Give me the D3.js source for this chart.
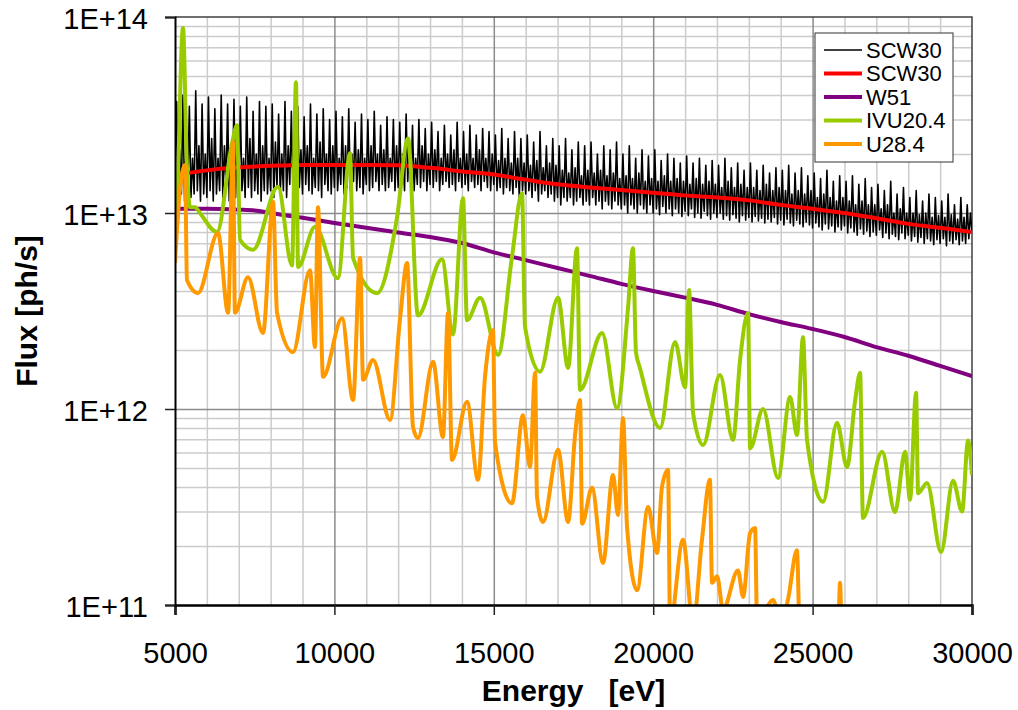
<!DOCTYPE html>
<html>
<head>
<meta charset="utf-8">
<script src="https://cdn.jsdelivr.net/npm/d3@7"></script>
<style>
body { margin: 0; background: #fff; }
svg { display: block; font-family: Arial, "Liberation Sans", sans-serif; }
</style>
</head>
<body>
<div id="chart"></div>
<script>
// ---- data (energy in eV, flux in ph/s) ----
var xTicks = [5000, 10000, 15000, 20000, 25000, 30000];
var yTicks = [1e11, 1e12, 1e13, 1e14];
var seriesNames = ["SCW30", "SCW30", "W51", "IVU20.4", "U28.4"];

// SCW30 noisy trace, one value every 50 eV from 5000, in units of 1e13
var scwStart = 5000, scwStep = 50;
var scwRaw = [
  1.5,3.7,1.2,2.1,1.25,4.0,1.15,2.3,1.3,3.5,1.2,1.9,1.25,4.2,1.3,2.2,1.15,3.6,1.25,2.0,
  1.2,3.9,1.3,2.4,1.15,3.4,1.25,1.9,1.3,4.0,1.2,2.2,1.35,3.6,1.15,2.1,1.3,3.8,1.2,2.3,
  1.25,3.5,1.3,1.9,1.2,3.9,1.35,2.4,1.2,3.3,1.3,2.0,1.25,3.7,1.15,2.2,1.3,3.5,1.25,1.9,
  1.3,3.6,1.2,2.3,1.35,3.2,1.25,2.0,1.3,3.7,1.2,2.2,1.4,3.3,1.25,1.9,1.3,3.5,1.35,2.1,
  1.25,3.1,1.4,2.2,1.3,3.6,1.25,1.9,1.35,3.2,1.3,2.3,1.2,3.4,1.4,2.0,1.3,3.0,1.25,2.2,
  1.35,3.3,1.3,1.9,1.4,3.1,1.25,2.2,1.35,3.4,1.3,2.0,1.45,2.9,1.3,2.1,1.35,3.2,1.25,1.9,
  1.4,3.0,1.3,2.2,1.35,3.3,1.45,2.0,1.3,2.8,1.4,2.1,1.3,3.1,1.35,1.9,1.45,3.0,1.3,2.2,
  1.35,2.9,1.4,2.0,1.3,3.2,1.45,2.1,1.35,2.8,1.3,1.9,1.4,3.0,1.35,2.2,1.45,2.7,1.3,2.0,
  1.4,2.9,1.35,2.1,1.45,2.6,1.3,1.9,1.4,2.8,1.45,2.0,1.35,2.5,1.4,2.1,1.3,2.9,1.45,1.9,
  1.35,2.6,1.4,2.0,1.3,2.8,1.45,1.9,1.35,2.5,1.4,2.1,1.3,2.7,1.45,1.9,1.35,2.6,1.3,2.0,
  1.4,2.5,1.3,1.85,1.35,2.7,1.25,1.9,1.35,2.4,1.3,1.8,1.25,2.6,1.35,1.9,1.2,2.4,1.3,1.8,
  1.25,2.5,1.3,1.75,1.2,2.3,1.3,1.85,1.15,2.6,1.25,1.7,1.3,2.2,1.2,1.8,1.25,2.4,1.15,1.75,
  1.2,2.2,1.1,1.65,1.2,2.4,1.15,1.6,1.2,2.1,1.1,1.7,1.15,2.3,1.2,1.55,1.1,2.2,1.15,1.65,
  1.1,2.3,1.2,1.6,1.1,2.0,1.15,1.65,1.05,2.2,1.15,1.55,1.1,2.1,1.05,1.6,1.15,2.3,1.1,1.5,
  1.05,2.0,1.1,1.55,1.0,2.2,1.1,1.5,1.05,1.9,1.0,1.6,1.1,2.1,1.05,1.45,1.0,1.95,1.1,1.5,
  1.0,2.1,1.05,1.45,0.98,1.85,1.08,1.55,1.0,2.0,1.05,1.45,0.97,1.9,1.05,1.5,1.0,1.8,0.96,1.45,
  1.02,1.95,0.97,1.4,1.05,1.8,0.95,1.5,1.0,1.9,0.94,1.4,1.02,1.75,0.97,1.45,0.93,1.85,1.0,1.4,
  0.95,1.75,1.0,1.35,0.93,1.9,0.97,1.45,0.92,1.7,0.98,1.35,0.94,1.8,0.9,1.4,0.97,1.65,0.92,1.35,
  0.95,1.8,0.9,1.35,0.96,1.65,0.91,1.3,0.94,1.75,0.89,1.4,0.93,1.6,0.9,1.3,0.95,1.7,0.88,1.35,
  0.92,1.65,0.87,1.3,0.93,1.75,0.89,1.25,0.86,1.6,0.92,1.3,0.88,1.7,0.85,1.25,0.9,1.55,0.87,1.3,
  0.84,1.6,0.89,1.2,0.85,1.5,0.82,1.25,0.88,1.65,0.83,1.2,0.86,1.45,0.8,1.15,0.85,1.55,0.82,1.2,
  0.86,1.45,0.79,1.15,0.84,1.55,0.8,1.1,0.77,1.4,0.83,1.15,0.78,1.5,0.81,1.1,0.76,1.35,0.8,1.1,
  0.77,1.4,0.82,1.05,0.75,1.3,0.79,1.1,0.74,1.45,0.78,1.0,0.76,1.25,0.73,1.05,0.79,1.35,0.74,1.0,
  0.77,1.2,0.72,1.0,0.76,1.3,0.71,0.98,0.75,1.15,0.7,1.0,0.74,1.25,0.72,0.95,0.69,1.2,0.73,0.97,
  0.7,1.15,0.74,0.95,0.68,1.25,0.72,0.98,0.7,1.1,0.73,0.93,0.69,1.2,0.72,0.95,0.7,1.1,0.74,1.0,
  0.8
];

// SCW30 smooth
var scwSmoothE = [5000,6000,7000,8000,9000,10000,11000,12000,13000,14000,15000,16000,17000,18000,19000,20000,21000,22000,23000,24000,25000,26000,27000,28000,29000,30000];
var scwSmoothF = [1.56e13,1.65e13,1.71e13,1.74e13,1.76e13,1.76e13,1.76e13,1.75e13,1.70e13,1.63e13,1.57e13,1.48e13,1.40e13,1.35e13,1.31e13,1.27e13,1.23e13,1.20e13,1.16e13,1.10e13,1.05e13,1.0e13,9.4e12,8.8e12,8.4e12,8.0e12];

// W51
var w51E = [5000,6000,7000,7500,8000,9000,10000,11000,12000,13000,14000,15000,16000,17000,18000,19000,20000,21000,22000,23000,24000,25000,26000,27000,28000,29000,30000];
var w51F = [1.05e13,1.05e13,1.04e13,1.03e13,1.0e13,9.45e12,8.9e12,8.4e12,7.95e12,7.55e12,7.03e12,6.3e12,5.75e12,5.24e12,4.78e12,4.35e12,4.0e12,3.7e12,3.4e12,3.05e12,2.78e12,2.56e12,2.33e12,2.07e12,1.87e12,1.66e12,1.47e12];

// IVU20.4
var ivuE = [5000,5063,5250,5375,5470,5630,5780,6320,6790,6945,7040,7450,8230,8670,8795,8860,9390,10110,10490,10585,11340,11965,12310,12620,13375,13720,14035,14160,14570,15135,15570,15885,15980,16450,17015,17330,17610,17705,18395,18865,19210,19365,19460,19585,20215,20685,21000,21125,21250,21565,22095,22505,22725,22975,23040,23445,23915,24295,24510,24700,24825,25330,25765,26080,26330,26490,26580,27180,27585,27900,28055,28245,28310,28590,29030,29405,29690,29875,30000];
var ivuF = [8.2e12,1.16e13,8.8e13,1.72e13,1.07e13,1.07e13,1.0e13,8.0e12,2.27e13,2.8e13,7.3e12,6.5e12,1.36e13,5.4e12,4.65e13,5.3e12,8.5e12,4.65e12,2.02e13,5.9e12,3.9e12,9.5e12,2.4e13,3.0e12,5.8e12,2.4e12,1.19e13,2.84e12,3.7e12,1.89e12,5.97e12,1.26e13,2.62e12,1.55e12,3.7e12,1.62e12,6.6e12,1.25e12,2.44e12,1.01e12,3.27e12,6.6e12,1.95e12,1.62e12,8.0e11,2.2e12,1.29e12,4.05e12,9.55e11,6.55e11,1.49e12,6.95e11,1.78e12,3.09e12,6.3e11,1.0e12,4.45e11,1.15e12,7.36e11,2.33e12,6.95e11,3.36e11,8.5e11,5.06e11,1.09e12,1.53e12,2.78e11,6.05e11,2.98e11,6.05e11,3.44e11,1.21e12,3.72e11,4.19e11,1.86e11,4.3e11,3.0e11,6.9e11,4.6e11];

// U28.4 (values under 1E+11 run off the bottom of the plot)
var u28E = [5000,5155,5315,5375,5720,6350,6665,6820,6880,7290,7760,8075,8200,8700,9235,9390,9485,9645,10240,10585,10805,10900,11210,11745,12060,12280,12465,12620,13095,13405,13565,13690,14160,14505,14725,14975,15040,15570,15915,16135,16295,16355,16545,17015,17330,17550,17705,17770,18080,18425,18740,18895,19055,19180,19495,19840,20120,20275,20465,20530,20935,21250,21530,21780,21845,22005,22190,22660,22820,23040,23195,23260,23760,24000,24230,24510,24600,25800,25860,25920,30000];
var u28F = [5.56e12,1.31e13,1.76e13,4.55e12,3.9e12,7.9e12,3.1e12,2.3e13,3.1e12,4.7e12,2.44e12,1.14e13,3.1e12,1.95e12,5.1e12,2.07e12,1.07e13,1.46e12,2.9e12,1.11e12,5.9e12,1.41e12,1.78e12,8.8e11,2.9e12,5.56e12,8.1e11,7.1e11,1.74e12,7.2e11,3.09e12,5.5e11,1.09e12,4.35e11,1.46e12,2.53e12,6.7e11,3.3e11,9.3e11,5.06e11,1.53e12,3.56e11,2.65e11,6.2e11,2.65e11,7.4e11,1.11e12,2.6e11,3.96e11,1.64e11,4.6e11,2.88e11,9.0e11,2.5e11,1.19e11,3.16e11,1.84e11,4.0e11,4.9e11,8e10,2.15e11,8e10,2.15e11,4.35e11,1.3e11,1.4e11,9.5e10,1.5e11,1.1e11,2.33e11,2.47e11,8e10,1.06e11,8e10,1.07e11,1.9e11,7e10,7e10,1.3e11,7e10,7e10];

var colors = ["#000000", "#ff0000", "#800080", "#99cc00", "#ff9900"];
var widths = [1.6, 4, 4, 4, 4];

// ---- layout ----
var W = 1018, H = 710;
var plot = { left: 175, right: 972, top: 17, bottom: 605 };

var svg = d3.select("#chart").append("svg").attr("width", W).attr("height", H);

var x = d3.scaleLinear().domain([5000, 30000]).range([plot.left, plot.right]);
var y = d3.scaleLog().domain([1e11, 1e14]).range([plot.bottom, plot.top]);

// grid lines
var xMinor = d3.range(6000, 30000, 1000).filter(function (d) { return d % 5000 !== 0; });
var xMajor = [10000, 15000, 20000, 25000];
var yMinor = [];
[1e11, 1e12, 1e13].forEach(function (dec) {
  for (var k = 2; k <= 9; k++) yMinor.push(dec * k);
});
var yMajor = [1e12, 1e13];

function grid(g, axis, color) {
  g.call(axis);
  g.select(".domain").remove();
  g.selectAll("line").attr("stroke", color).attr("stroke-width", 1.5);
}

svg.append("g").attr("transform", "translate(0," + plot.bottom + ")")
  .call(grid, d3.axisBottom(x).tickValues(xMinor).tickSize(-(plot.bottom - plot.top)).tickFormat(""), "#cccccc");
svg.append("g").attr("transform", "translate(" + plot.left + ",0)")
  .call(grid, d3.axisLeft(y).tickValues(yMinor).tickSize(-(plot.right - plot.left)).tickFormat(""), "#cccccc");
svg.append("g").attr("transform", "translate(0," + plot.bottom + ")")
  .call(grid, d3.axisBottom(x).tickValues(xMajor).tickSize(-(plot.bottom - plot.top)).tickFormat(""), "#8c8c8c");
svg.append("g").attr("transform", "translate(" + plot.left + ",0)")
  .call(grid, d3.axisLeft(y).tickValues(yMajor).tickSize(-(plot.right - plot.left)).tickFormat(""), "#8c8c8c");

// plot border (top/right)
svg.append("path")
  .attr("d", "M" + plot.left + "," + plot.top + "H" + plot.right + "V" + plot.bottom)
  .attr("fill", "none").attr("stroke", "#404040").attr("stroke-width", 1.5);

// series
svg.append("defs").append("clipPath").attr("id", "clip")
  .append("rect").attr("x", plot.left).attr("y", plot.top)
  .attr("width", plot.right - plot.left).attr("height", plot.bottom - plot.top);

var scwData = scwRaw.map(function (v, i) { return [scwStart + i * scwStep, v * 1e13]; });
function zip(e, f) { return e.map(function (d, i) { return [d, f[i]]; }); }
var allSeries = [
  { data: scwData, curve: d3.curveLinear },
  { data: zip(scwSmoothE, scwSmoothF), curve: d3.curveMonotoneX },
  { data: zip(w51E, w51F), curve: d3.curveMonotoneX },
  { data: zip(ivuE, ivuF), curve: d3.curveMonotoneX },
  { data: zip(u28E, u28F), curve: d3.curveMonotoneX }
];

var gSeries = svg.append("g").attr("clip-path", "url(#clip)");
allSeries.forEach(function (s, i) {
  var line = d3.line()
    .curve(s.curve)
    .x(function (d) { return x(d[0]); })
    .y(function (d) { return y(d[1]); });
  gSeries.append("path")
    .datum(s.data)
    .attr("fill", "none")
    .attr("stroke", colors[i])
    .attr("stroke-width", widths[i])
    .attr("stroke-linejoin", "round")
    .attr("d", line);
});

// axes
var xAxis = svg.append("g").attr("transform", "translate(0," + plot.bottom + ")")
  .call(d3.axisBottom(x).tickValues(xTicks).tickSize(10).tickPadding(27).tickFormat(d3.format("d")));
xAxis.select(".domain").attr("stroke", "#000").attr("stroke-width", 2.5);
xAxis.selectAll(".tick line").attr("stroke", "#222").attr("stroke-width", 1.5);
xAxis.selectAll("text").attr("font-size", 29).attr("fill", "#000").attr("font-family", "Arial, 'Liberation Sans', sans-serif");

var yAxis = svg.append("g").attr("transform", "translate(" + plot.left + ",0)")
  .call(d3.axisLeft(y).tickValues(yTicks).tickSize(10).tickPadding(17)
    .tickFormat(function (d) { return "1E+" + Math.round(Math.log10(d)); }));
yAxis.select(".domain").attr("stroke", "#000").attr("stroke-width", 2);
yAxis.selectAll(".tick line").attr("stroke", "#222").attr("stroke-width", 1.5);
yAxis.selectAll("text").attr("font-size", 29).attr("fill", "#000").attr("dy", "0.38em").attr("font-family", "Arial, 'Liberation Sans', sans-serif");

// axis titles
svg.append("text")
  .attr("x", (plot.left + plot.right) / 2).attr("y", 701)
  .attr("text-anchor", "middle").attr("font-size", 30).attr("font-weight", "bold")
  .attr("xml:space", "preserve").style("white-space", "pre")
  .text("Energy   [eV]");

svg.append("text")
  .attr("transform", "translate(37," + (plot.top + plot.bottom) / 2 + ") rotate(-90)")
  .attr("text-anchor", "middle").attr("font-size", 30).attr("font-weight", "bold")
  .text("Flux [ph/s]");

// legend
var legend = svg.append("g").attr("transform", "translate(815,33)");
legend.append("rect").attr("width", 138).attr("height", 129)
  .attr("fill", "#fff").attr("stroke", "#333").attr("stroke-width", 1);
seriesNames.forEach(function (name, i) {
  var cy = 17 + i * 23.5;
  legend.append("line").attr("x1", 9).attr("x2", 47).attr("y1", cy).attr("y2", cy)
    .attr("stroke", colors[i]).attr("stroke-width", i === 0 ? 1.5 : 4);
  legend.append("text").attr("x", 51).attr("y", cy).attr("dy", "0.36em")
    .attr("font-size", 22).text(name);
});
</script>
</body>
</html>
